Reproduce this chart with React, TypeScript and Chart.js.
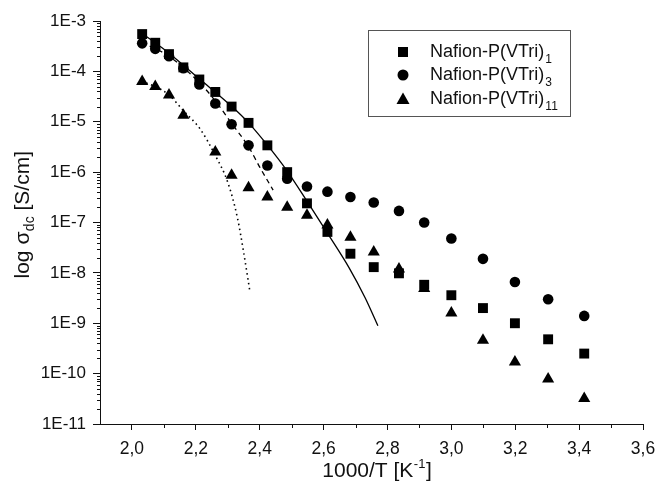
import React, { useEffect, useRef } from 'react';
import { Chart, registerables } from 'chart.js';

Chart.register(...registerables);

// 1000/T values [K^-1]
const invT = [2.032, 2.073, 2.116, 2.161, 2.211, 2.261, 2.312, 2.365, 2.424, 2.486, 2.548, 2.612, 2.684, 2.757, 2.836, 2.915, 3.0, 3.099, 3.199, 3.303, 3.416];
const invT11 = [2.032, 2.073, 2.116, 2.161, 2.261, 2.312, 2.365, 2.424, 2.486, 2.548, 2.612, 2.684, 2.757, 2.836, 2.915, 3.0, 3.099, 3.199, 3.303, 3.416];

// sigma_dc [S/cm]
const sigmaVTri1 = [5.5e-4, 3.7e-4, 2.2e-4, 1.2e-4, 6.9e-5, 3.9e-5, 2.0e-5, 9.5e-6, 3.4e-6, 1.0e-6, 2.4e-7, 6.5e-8, 2.4e-8, 1.3e-8, 9.8e-9, 5.8e-9, 3.6e-9, 2.0e-9, 1.0e-9, 4.8e-10, 2.5e-10];
const sigmaVTri3 = [3.6e-4, 2.8e-4, 2.0e-4, 1.15e-4, 5.5e-5, 2.3e-5, 8.9e-6, 3.4e-6, 1.35e-6, 7.4e-7, 5.2e-7, 4.1e-7, 3.2e-7, 2.5e-7, 1.7e-7, 1.0e-7, 4.8e-8, 1.9e-8, 6.6e-9, 3.0e-9, 1.4e-9];
const sigmaVTri11 = [6.3e-5, 5.0e-5, 3.4e-5, 1.35e-5, 2.5e-6, 8.7e-7, 4.9e-7, 3.2e-7, 2.0e-7, 1.4e-7, 8.9e-8, 5.1e-8, 2.6e-8, 1.2e-8, 4.9e-9, 1.6e-9, 4.6e-10, 1.7e-10, 7.8e-11, 3.2e-11];

// fit curves
const fit1X = [2.03, 2.116, 2.211, 2.313, 2.365, 2.423, 2.486, 2.549, 2.611, 2.68, 2.73, 2.77];
const fit1Y = [5.8e-4, 2.3e-4, 7.1e-5, 2.0e-5, 9.5e-6, 3.5e-6, 1.05e-6, 2.6e-7, 6.3e-8, 1.26e-8, 3.2e-9, 8.9e-10];
const fit3X = [2.03, 2.116, 2.211, 2.261, 2.312, 2.365, 2.40, 2.442];
const fit3Y = [3.8e-4, 2.0e-4, 6.0e-5, 2.6e-5, 9.3e-6, 3.2e-6, 1.26e-6, 4.4e-7];
const fit11X = [2.03, 2.073, 2.116, 2.161, 2.214, 2.26, 2.30, 2.33, 2.35, 2.37];
const fit11Y = [6.3e-5, 5.0e-5, 3.4e-5, 1.66e-5, 7.1e-6, 2.2e-6, 6.3e-7, 1.26e-7, 2.5e-8, 4.0e-9];

const seriesNames = ['Nafion-P(VTri)', 'Nafion-P(VTri)', 'Nafion-P(VTri)'];
const seriesSubs = ['1', '3', '11'];
const seriesMarkers = ['rect', 'circle', 'triangle'];

const xMin = 1.9;
const xMax = 3.6;
const yMin = 1e-11;
const yMax = 1e-3;

const FONT = "'Liberation Sans', Arial, sans-serif";
const INK = '#111111';

const pts = (xs: number[], ys: number[]) => xs.map((x, i) => ({ x, y: ys[i] }));

const isMajorLog = (v: number) => {
  const e = Math.log10(v);
  return Math.abs(e - Math.round(e)) < 1e-6;
};

function drawMarker(ctx: CanvasRenderingContext2D, style: string, x: number, y: number) {
  ctx.beginPath();
  if (style === 'rect') {
    ctx.rect(x - 5, y - 5, 10, 10);
  } else if (style === 'circle') {
    ctx.arc(x, y, 5.5, 0, Math.PI * 2);
  } else {
    ctx.moveTo(x, y - 6.5);
    ctx.lineTo(x + 6.5, y + 5);
    ctx.lineTo(x - 6.5, y + 5);
    ctx.closePath();
  }
  ctx.fill();
}

const overlay = {
  id: 'overlay',
  afterDraw(chart: any) {
    const ctx: CanvasRenderingContext2D = chart.ctx;
    const xs = chart.scales.x;
    const ys = chart.scales.y;
    const { left, top, bottom } = chart.chartArea;
    ctx.save();
    // minor tick marks
    ctx.strokeStyle = INK;
    ctx.lineWidth = 1;
    ctx.beginPath();
    for (let k = 21; k <= 35; k += 2) {
      const px = Math.round(xs.getPixelForValue(k / 10)) + 0.5;
      ctx.moveTo(px, bottom);
      ctx.lineTo(px, bottom + 4);
    }
    for (let e = -11; e <= -4; e++) {
      for (let m = 2; m <= 9; m++) {
        const py = Math.round(ys.getPixelForValue(m * Math.pow(10, e))) + 0.5;
        ctx.moveTo(left, py);
        ctx.lineTo(left - 3, py);
      }
    }
    ctx.stroke();

    // legend
    ctx.strokeStyle = '#555';
    ctx.lineWidth = 1;
    ctx.strokeRect(368.5, 30.5, 202, 86);
    const rows = [52, 75, 99];
    for (let i = 0; i < 3; i++) {
      ctx.fillStyle = '#000';
      drawMarker(ctx, seriesMarkers[i], 403, rows[i]);
      ctx.fillStyle = INK;
      ctx.font = `18px ${FONT}`;
      ctx.textBaseline = 'middle';
      ctx.textAlign = 'left';
      ctx.fillText(seriesNames[i], 430, rows[i]);
      const w = ctx.measureText(seriesNames[i]).width;
      ctx.font = `12px ${FONT}`;
      ctx.fillText(seriesSubs[i], 430 + w + 1, rows[i] + 8);
    }

    // x title
    ctx.fillStyle = INK;
    ctx.textBaseline = 'alphabetic';
    ctx.textAlign = 'left';
    const xa = '1000/T [K';
    const xsup = '-1';
    const xb = ']';
    ctx.font = `21px ${FONT}`;
    const wa = ctx.measureText(xa).width;
    const wb = ctx.measureText(xb).width;
    ctx.font = `13px ${FONT}`;
    const ws = ctx.measureText(xsup).width;
    const total = wa + ws + wb + 1;
    const cx = 377;
    const x0 = cx - total / 2;
    const base = 477;
    ctx.font = `21px ${FONT}`;
    ctx.fillText(xa, x0, base);
    ctx.font = `13px ${FONT}`;
    ctx.fillText(xsup, x0 + wa + 0.5, base - 9);
    ctx.font = `21px ${FONT}`;
    ctx.fillText(xb, x0 + wa + ws + 1, base);

    // y title (rotated)
    ctx.save();
    ctx.translate(29, 215);
    ctx.rotate(-Math.PI / 2);
    const ya = 'log σ';
    const ysub = 'dc';
    const yb = ' [S/cm]';
    ctx.font = `21px ${FONT}`;
    const wya = ctx.measureText(ya).width;
    const wyb = ctx.measureText(yb).width;
    ctx.font = `14px ${FONT}`;
    const wys = ctx.measureText(ysub).width;
    const ytot = wya + wys + wyb;
    const y0 = -ytot / 2;
    ctx.font = `21px ${FONT}`;
    ctx.fillText(ya, y0, 0);
    ctx.font = `14px ${FONT}`;
    ctx.fillText(ysub, y0 + wya + 0.5, 5);
    ctx.font = `21px ${FONT}`;
    ctx.fillText(yb, y0 + wya + wys + 0.5, 0);
    ctx.restore();

    ctx.restore();
  },
};

export default function App() {
  const ref = useRef<HTMLCanvasElement | null>(null);
  useEffect(() => {
    if (!ref.current) return;
    const pointBase = { showLine: false, backgroundColor: '#000', borderColor: '#000', borderWidth: 0, order: 0 };
    const lineBase = { showLine: true, pointRadius: 0, borderColor: '#000', borderWidth: 1.3, cubicInterpolationMode: 'monotone', order: 1, fill: false };
    const chart = new Chart(ref.current, {
      type: 'scatter',
      data: {
        datasets: [
          { ...pointBase, label: 'VTri1', data: pts(invT, sigmaVTri1), pointStyle: 'rect', pointRadius: 7 },
          { ...pointBase, label: 'VTri3', data: pts(invT, sigmaVTri3), pointStyle: 'circle', pointRadius: 5.3 },
          { ...pointBase, label: 'VTri11', data: pts(invT11, sigmaVTri11), pointStyle: 'triangle', pointRadius: 7 },
          { ...lineBase, label: 'fit1', data: pts(fit1X, fit1Y) },
          { ...lineBase, label: 'fit3', data: pts(fit3X, fit3Y), borderDash: [5, 4] },
          { ...lineBase, label: 'fit11', data: pts(fit11X, fit11Y), borderDash: [1.5, 3.5], borderWidth: 1.6 },
        ] as any,
      },
      options: {
        animation: false,
        responsive: false,
        maintainAspectRatio: false,
        layout: { padding: { top: 21, right: 18, left: 0, bottom: 0 } },
        plugins: { legend: { display: false }, tooltip: { enabled: false } },
        scales: {
          x: {
            type: 'linear',
            min: xMin,
            max: xMax,
            afterFit: (s: any) => { s.height = 65; s.paddingRight = 0; s.paddingLeft = 0; },
            grid: {
              display: true,
              drawOnChartArea: false,
              drawTicks: true,
              tickLength: 6,
              tickWidth: 1,
              tickColor: (c: any) => {
                const k = Math.round(Number(c.tick && c.tick.value) * 10);
                return k >= 20 && k % 2 === 0 ? INK : 'rgba(0,0,0,0)';
              },
            },
            border: { display: true, color: INK, width: 1 },
            ticks: {
              stepSize: 0.1,
              autoSkip: false,
              maxRotation: 0,
              padding: 9,
              color: INK,
              font: { family: FONT, size: 17.5 },
              callback: (v: any) => {
                const k = Math.round(Number(v) * 10);
                if (k < 20 || k % 2 !== 0) return '';
                return (k / 10).toFixed(1).replace('.', ',');
              },
            },
          },
          y: {
            type: 'logarithmic',
            min: yMin,
            max: yMax,
            afterFit: (s: any) => { s.width = 100; s.paddingTop = 0; s.paddingBottom = 0; },
            grid: {
              display: true,
              drawOnChartArea: false,
              drawTicks: true,
              tickLength: 7,
              tickWidth: 1,
              tickColor: (c: any) => (c.tick && isMajorLog(Number(c.tick.value)) ? INK : 'rgba(0,0,0,0)'),
            },
            border: { display: true, color: INK, width: 1 },
            ticks: {
              autoSkip: false,
              padding: 7,
              color: INK,
              font: { family: FONT, size: 17 },
              callback: (v: any) => {
                const e = Math.log10(Number(v));
                const r = Math.round(e);
                if (Math.abs(e - r) < 1e-6) return '1E' + r;
                return '';
              },
            },
          },
        },
      },
      plugins: [overlay],
    } as any);
    return () => chart.destroy();
  }, []);
  return (
    <div style={{ position: 'fixed', left: 0, top: 0, width: 661, height: 489, background: '#fff' }}>
      <canvas ref={ref} width={661} height={489} style={{ display: 'block', width: 661, height: 489 }} />
    </div>
  );
}
